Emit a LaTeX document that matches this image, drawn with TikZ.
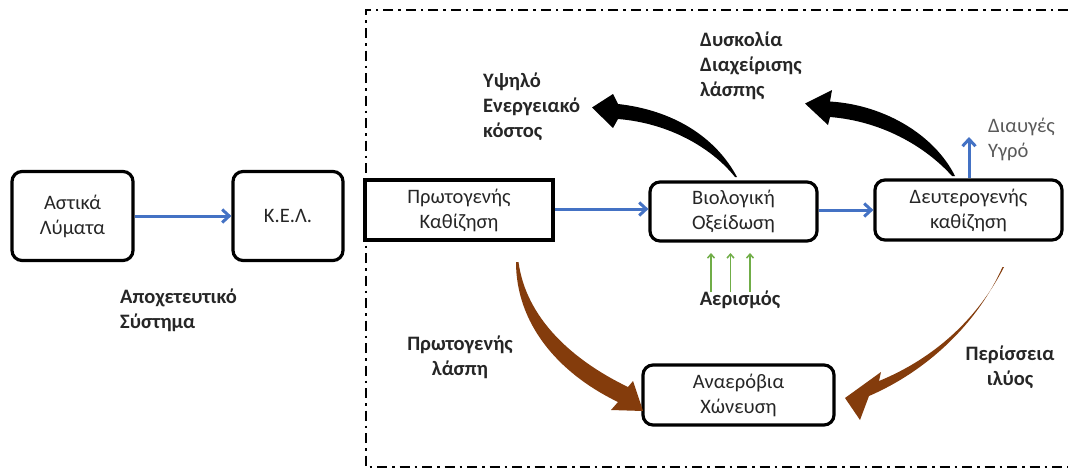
\documentclass[tikz,border=0pt]{standalone}
\usepackage{fontspec}
\setmainfont{Carlito}
\usetikzlibrary{arrows.meta}
\definecolor{flowblue}{HTML}{4472C4}
\definecolor{airgreen}{HTML}{70AD47}
\definecolor{sludgebrown}{HTML}{843C0C}
\definecolor{boxtext}{HTML}{262626}
\definecolor{labeltext}{HTML}{262626}
\definecolor{cleartext}{HTML}{595959}
\begin{document}
\begin{tikzpicture}[x=1pt,y=-1pt,
  every node/.style={font=\fontsize{20.5}{25}\selectfont, inner sep=0pt},
  unitbox/.style={draw=black, line width=3.2pt, rounded corners=10pt, align=center, text=boxtext},
  plainbox/.style={draw=black, line width=3.4pt, align=center, text=boxtext},
  lbl/.style={align=left, text=labeltext, font=\fontsize{20.5}{25}\selectfont\bfseries},
  clbl/.style={align=center, text=labeltext, font=\fontsize{20.5}{25}\selectfont\bfseries},
  flow/.style={draw=flowblue, line width=3pt, -{Straight Barb[length=7pt,width=13pt,line width=3pt]}},
  air/.style={draw=airgreen, line width=1.5pt, -{Straight Barb[length=4pt,width=7pt,line width=1.5pt]}},
  boundary/.style={draw=black, line width=2.2pt, dash pattern=on 10pt off 5pt on 2.5pt off 5pt}
]
\useasboundingbox (0,0) rectangle (1068,471);

% plant boundary (open to the right)
\draw[boundary] (1068,10) -- (366,10) -- (366,467) -- (1068,467);

% process units
\node[unitbox, minimum width=121pt, minimum height=89pt] (astika) at (72.5,216) {Αστικά\\Λύματα};
\node[unitbox, minimum width=110pt, minimum height=89pt] (kel) at (288,216) {Κ.Ε.Λ.};
\node[plainbox, minimum width=188pt, minimum height=60pt] (prot) at (459,210) {Πρωτογενής\\Καθίζηση};
\node[unitbox, minimum width=167pt, minimum height=59pt] (bio) at (733.5,211.5) {Βιολογική\\Οξείδωση};
\node[unitbox, minimum width=187pt, minimum height=60pt] (deut) at (968.5,210) {Δευτερογενής\\καθίζηση};
\node[unitbox, minimum width=191pt, minimum height=60pt] (anaer) at (738.5,395) {Αναερόβια\\Χώνευση};

% labels
\node[lbl, anchor=west] (apoxet) at (120,310) {Αποχετευτικό\\Σύστημα};
\node[lbl, anchor=west] (ypsilo) at (483,107) {Υψηλό\\Ενεργειακό\\κόστος};
\node[lbl, anchor=west] (dysk) at (700,65.5) {Δυσκολία\\Διαχείρισης\\λάσπης};
\node[align=left, text=cleartext, anchor=west] (diaug) at (988,139) {Διαυγές\\Υγρό};
\node[clbl] (aer) at (740,300) {Αερισμός};
\node[clbl] (protl) at (460,357) {Πρωτογενής\\λάσπη};
\node[clbl] (peris) at (1010,367) {Περίσσεια\\ιλύος};

% main water line
\draw[flow] (astika.east) -- (kel.west);
\draw[flow] (prot.east |- 0,209) -- (bio.west |- 0,209);
\draw[flow] (bio.east |- 0,210) -- (deut.west |- 0,210);
\coordinate (effl) at (969,137);
\draw[flow] (deut.north -| effl) -- (effl);

% aeration
\foreach \gx [count=\gi] in {711,730.5,750}{
  \coordinate (air\gi) at (\gx,292);
  \draw[air] (air\gi) -- (\gx,253);
}

% tapered black arrows (problems)
\fill[black] (737,177) .. controls (715,136) and (672,110) .. (618,104)
  -- (613,94) -- (592,107.5) -- (613,128) -- (618,119)
  .. controls (668,123) and (711,147) .. (735,177) -- cycle;
\fill[black] (955,176) .. controls (935,136) and (886,105) .. (830,101.5)
  -- (832,90) -- (805,103.5) -- (828,125) -- (830,117)
  .. controls (880,121) and (924,145) .. (952,176) -- cycle;

% tapered brown arrows (sludge streams)
\fill[sludgebrown] (518.5,262) .. controls (526,318) and (572,360) .. (628,387)
  -- (633,381) -- (643,411) -- (611,410) -- (618,402)
  .. controls (556,372) and (516,322) .. (516,262) -- cycle;
\fill[sludgebrown] (1004,267) .. controls (978,318) and (935,358) .. (879,381)
  -- (881,372) -- (845,398) -- (860,420) -- (869,396)
  .. controls (929,370) and (978,322) .. (1002.5,267) -- cycle;
\end{tikzpicture}
\end{document}
